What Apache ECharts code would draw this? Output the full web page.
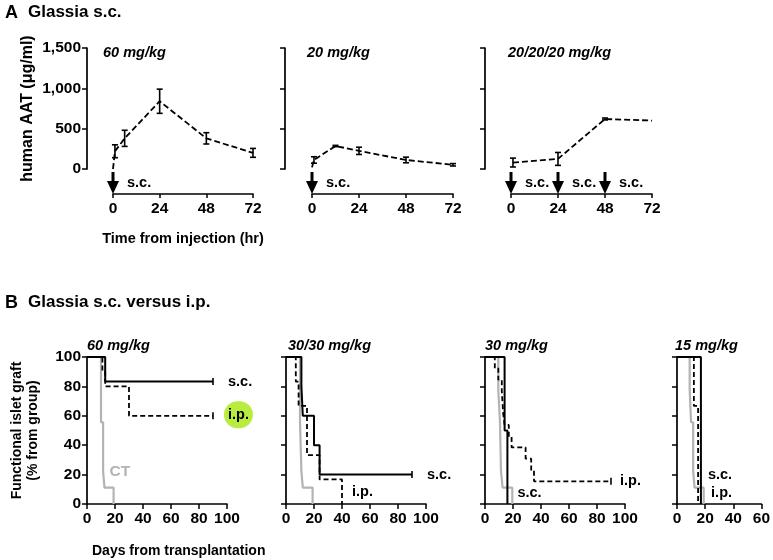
<!DOCTYPE html>
<html><head><meta charset="utf-8">
<script src="https://cdn.jsdelivr.net/npm/echarts@6/dist/echarts.min.js"></script>
<style>html,body{margin:0;padding:0;background:#fff}#c{width:773px;height:560px}</style>
</head><body><div id="c"></div>
<script>
// ---------------- Panel A: human AAT (µg/ml) vs time from injection (hr) ----------------
const a60Hours = [0, 1, 6, 24, 48, 72];
const a60Mean  = [0, 220, 380, 840, 380, 200];
const a60Err   = [0, 80, 100, 150, 70, 55];
const a60Doses = [0];

const a20Hours = [0, 1, 12, 24, 48, 72];
const a20Mean  = [20, 112, 285, 225, 112, 52];
const a20Err   = [0, 40, 8, 45, 35, 15];
const a20Doses = [0];

const a3xHours = [1, 24, 48, 72];
const a3xMean  = [80, 125, 620, 600];
const a3xErr   = [55, 80, 12, 0];
const a3xDoses = [0, 24, 48];

const aPanelTitles = ['60 mg/kg', '20 mg/kg', '20/20/20 mg/kg'];
const aYTicks = [0, 500, 1000, 1500];
const aXTicks = [0, 24, 48, 72];

// ---------------- Panel B: functional islet graft (%) vs days ----------------
const ct60Days = [0, 10, 11.5, 12.5, 19];
const ct60Pct  = [100, 55.6, 22.2, 11.1, 0];
const sc60Days = [0, 13, 90];
const sc60Pct  = [100, 83.3, 83.3];
const ip60Days = [0, 11, 13, 30, 90];
const ip60Pct  = [100, 90, 80, 60, 60];

const ct3030Days = [0, 10, 11, 12, 19];
const ct3030Pct  = [100, 55.6, 22.2, 11.1, 0];
const sc3030Days = [0, 11, 12, 20, 24, 90];
const sc3030Pct  = [100, 80, 60, 40, 20, 20];
const ip3030Days = [0, 7, 9, 15, 24, 40];
const ip3030Pct  = [100, 83.3, 66.7, 33.3, 16.7, 0];

const ct30Days = [0, 9.5, 10.7, 11.4, 12.6, 19.5];
const ct30Pct  = [100, 77.8, 55.6, 22.2, 11.1, 0];
const sc30Days = [0, 14, 16];
const sc30Pct  = [100, 50, 0];
const ip30Days = [0, 7, 9.5, 12, 13, 14, 17, 19, 29, 33, 35, 90];
const ip30Pct  = [100, 92.3, 84.6, 76.9, 61.5, 53.8, 46.2, 38.5, 30.8, 23.1, 15.4, 15.4];

const ct15Days = [0, 9, 10, 11.5, 12.5, 19];
const ct15Pct  = [100, 77.8, 55.6, 22.2, 11.1, 0];
const sc15Days = [0, 17];
const sc15Pct  = [100, 0];
const ip15Days = [0, 12, 15];
const ip15Pct  = [100, 66.7, 0];

const bPanelTitles = ['60 mg/kg', '30/30 mg/kg', '30 mg/kg', '15 mg/kg'];
const bYTicks = [0, 20, 40, 60, 80, 100];
const bXMax = [100, 100, 100, 60];

// ---------------- styling / layout ----------------
const FONT = '"Liberation Sans", Arial, Helvetica, sans-serif';
const BLACK = '#000';
const GREY = '#b3b3b3';
const boldTxt = (size, extra) => Object.assign({fontFamily: FONT, fontWeight: 'bold', fontSize: size, color: BLACK}, extra || {});

const grids = [
  {left: 113, top: 48, width: 140, height: 121},
  {left: 312, top: 48, width: 141, height: 121},
  {left: 511, top: 48, width: 141, height: 121},
  {left: 87, top: 357, width: 140, height: 147},
  {left: 286, top: 357, width: 140, height: 147},
  {left: 485, top: 357, width: 140, height: 147},
  {left: 677, top: 357, width: 87, height: 147}
];
const aYOffset = [26, 27, 26];

const xAxes = [], yAxes = [], series = [];
const axisLine = {show: true, onZero: false, lineStyle: {color: BLACK, width: 1.7}};

// Panel A axes
for (let i = 0; i < 3; i++) {
  xAxes.push({
    gridIndex: i, type: 'value', min: aXTicks[0], max: aXTicks[aXTicks.length - 1],
    interval: aXTicks[1] - aXTicks[0], offset: 25,
    axisLine, axisTick: {show: true, length: 4, lineStyle: {color: BLACK, width: 1.5}},
    axisLabel: Object.assign(boldTxt(15.5), {margin: 7}),
    splitLine: {show: false},
    name: i === 0 ? 'Time from injection (hr)' : '',
    nameLocation: 'middle', nameGap: 37, nameTextStyle: boldTxt(14.5)
  });
  yAxes.push({
    gridIndex: i, type: 'value', min: aYTicks[0], max: aYTicks[aYTicks.length - 1],
    interval: aYTicks[1] - aYTicks[0], offset: aYOffset[i],
    axisLine, axisTick: {show: true, length: 5, lineStyle: {color: BLACK, width: 1.5}},
    axisLabel: Object.assign(boldTxt(15.5), {show: i === 0, margin: 6,
      formatter: v => v.toLocaleString('en-US')}),
    splitLine: {show: false},
    name: i === 0 ? 'human AAT (\u03bcg/ml)' : '',
    nameLocation: 'middle', nameRotate: 90, nameGap: 51, nameTextStyle: boldTxt(16)
  });
}
// Panel B axes
for (let j = 0; j < 4; j++) {
  const g = 3 + j;
  xAxes.push({
    gridIndex: g, type: 'value', min: 0, max: bXMax[j], interval: 20,
    axisLine, axisTick: {show: true, length: 5, lineStyle: {color: BLACK, width: 1.5}},
    axisLabel: Object.assign(boldTxt(15.5), {margin: 7}),
    splitLine: {show: false}
  });
  yAxes.push({
    gridIndex: g, type: 'value', min: bYTicks[0], max: bYTicks[bYTicks.length - 1], interval: 20,
    axisLine, axisTick: {show: true, length: 5, lineStyle: {color: BLACK, width: 1.5}},
    axisLabel: Object.assign(boldTxt(15.5), {show: j === 0, margin: 6}),
    splitLine: {show: false},
    name: j === 0 ? 'Functional islet graft\n(% from group)' : '',
    nameLocation: 'middle', nameRotate: 90, nameGap: 46,
    nameTextStyle: boldTxt(14, {lineHeight: 16})
  });
}

// Panel A series
const arrowPath = 'path://M4.5,0 L7.5,0 L7.5,9 L12,9 L6,22 L0,9 L4.5,9 Z';
function renderErr(params, api) {
  const x = api.value(0), m = api.value(1), e = api.value(2);
  if (!e) return null;
  const hi = api.coord([x, m + e]), lo = api.coord([x, m - e]);
  const w = 3, st = {stroke: BLACK, lineWidth: 1.6};
  return {type: 'group', children: [
    {type: 'line', shape: {x1: hi[0], y1: hi[1], x2: lo[0], y2: lo[1]}, style: st},
    {type: 'line', shape: {x1: hi[0] - w, y1: hi[1], x2: hi[0] + w, y2: hi[1]}, style: st},
    {type: 'line', shape: {x1: lo[0] - w, y1: lo[1], x2: lo[0] + w, y2: lo[1]}, style: st}
  ]};
}
const aSets = [
  [a60Hours, a60Mean, a60Err, a60Doses],
  [a20Hours, a20Mean, a20Err, a20Doses],
  [a3xHours, a3xMean, a3xErr, a3xDoses]
];
aSets.forEach(([h, m, e, d], i) => {
  series.push({
    type: 'line', xAxisIndex: i, yAxisIndex: i, symbol: 'none', clip: false,
    data: h.map((t, k) => [t, m[k]]),
    lineStyle: {color: BLACK, width: 1.8, type: [6, 3]}
  });
  series.push({
    type: 'custom', xAxisIndex: i, yAxisIndex: i, renderItem: renderErr,
    encode: {x: 0, y: 1}, data: h.map((t, k) => [t, m[k], e[k]])
  });
  series.push({
    type: 'scatter', xAxisIndex: i, yAxisIndex: i, clip: false, silent: true,
    symbol: arrowPath, symbolSize: [12, 22], symbolOffset: [0, 14], symbolKeepAspect: false,
    itemStyle: {color: BLACK, opacity: 1},
    label: Object.assign(boldTxt(14.5), {show: true, position: 'right', distance: 8, formatter: 's.c.', opacity: 1}),
    data: d.map(t => [t, 0])
  });
});

// Panel B series
const bSets = [
  [
    {days: ct60Days, pct: ct60Pct, kind: 'ct', label: 'CT', dist: 0, off: [-4, -32]},
    {days: ip60Days, pct: ip60Pct, kind: 'ip', label: 'i.p.', dist: 11, off: [0, -1], green: true},
    {days: sc60Days, pct: sc60Pct, kind: 'sc', label: 's.c.', dist: 15, off: [0, 0]}
  ],
  [
    {days: ct3030Days, pct: ct3030Pct, kind: 'ct'},
    {days: ip3030Days, pct: ip3030Pct, kind: 'ip', label: 'i.p.', dist: 10, off: [0, -12]},
    {days: sc3030Days, pct: sc3030Pct, kind: 'sc', label: 's.c.', dist: 15, off: [0, 0]}
  ],
  [
    {days: ct30Days, pct: ct30Pct, kind: 'ct'},
    {days: ip30Days, pct: ip30Pct, kind: 'ip', label: 'i.p.', dist: 9, off: [0, 0]},
    {days: sc30Days, pct: sc30Pct, kind: 'sc', label: 's.c.', dist: 10, off: [0, -11]}
  ],
  [
    {days: ct15Days, pct: ct15Pct, kind: 'ct'},
    {days: ip15Days, pct: ip15Pct, kind: 'ip', label: 'i.p.', dist: 13, off: [0, -11]},
    {days: sc15Days, pct: sc15Pct, kind: 'sc', label: 's.c.', dist: 7, off: [0, -29]}
  ]
];
const styles = {
  sc: {color: BLACK, width: 2, type: 'solid'},
  ip: {color: BLACK, width: 1.8, type: [5, 3]},
  ct: {color: GREY, width: 2.2, type: 'solid'}
};
bSets.forEach((curves, j) => {
  const g = 3 + j;
  curves.forEach(c => {
    const st = styles[c.kind];
    const n = c.days.length;
    const data = c.days.map((d, k) => {
      const item = {value: [d, c.pct[k]]};
      if (k === n - 1 && c.pct[k] > 0) {
        item.symbol = 'rect';
        item.symbolSize = [1.6, 7];
        item.itemStyle = {color: st.color};
      }
      return item;
    });
    const lbl = {show: !!c.label, formatter: c.label || '', distance: c.dist || 0, offset: c.off || [0, 0],
      fontFamily: FONT, fontWeight: 'bold', fontSize: c.kind === 'ct' ? 15.5 : 14.5,
      color: c.kind === 'ct' ? GREY : BLACK};
    if (c.green) Object.assign(lbl, {backgroundColor: '#b8ec3e', borderRadius: 14, padding: [6, 4]});
    series.push({
      type: 'line', step: 'end', xAxisIndex: g, yAxisIndex: g, symbol: 'none', clip: false,
      z: c.kind === 'ct' ? 1 : 2, silent: true,
      data, lineStyle: {color: st.color, width: st.width, type: st.type},
      itemStyle: {color: st.color},
      endLabel: lbl
    });
  });
});

// Text
const titles = [
  {text: 'A', left: 5, top: 4, textStyle: boldTxt(18)},
  {text: 'Glassia s.c.', left: 28, top: 4, textStyle: boldTxt(17)},
  {text: 'B', left: 5, top: 294, textStyle: boldTxt(18)},
  {text: 'Glassia s.c. versus i.p.', left: 28, top: 294, textStyle: boldTxt(17)},
  {text: 'Days from transplantation', left: 92, top: 544, textStyle: boldTxt(14)}
];
const aTitleLeft = [103, 307, 508];
aPanelTitles.forEach((t, i) => titles.push({text: t, left: aTitleLeft[i], top: 45,
  textStyle: boldTxt(14.5, {fontStyle: 'italic'})}));
const bTitleLeft = [87, 288, 485, 675];
bPanelTitles.forEach((t, j) => titles.push({text: t, left: bTitleLeft[j], top: 338,
  textStyle: boldTxt(14.5, {fontStyle: 'italic'})}));
titles.forEach(t => { t.padding = 0; });

const chart = echarts.init(document.getElementById('c'), null, {renderer: 'canvas'});
chart.setOption({
  animation: false,
  backgroundColor: '#fff',
  title: titles,
  grid: grids,
  xAxis: xAxes,
  yAxis: yAxes,
  series
});
</script>
</body></html>
